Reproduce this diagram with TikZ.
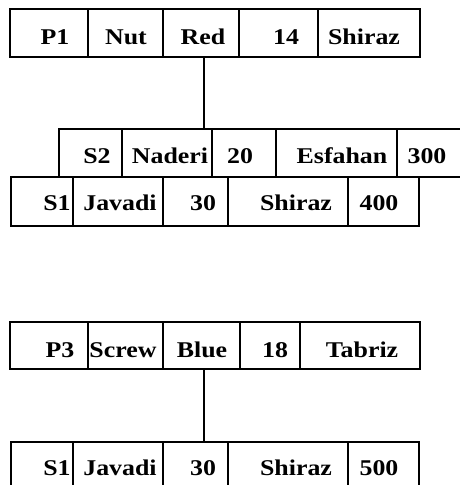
\documentclass[tikz,border=0pt]{standalone}
\usepackage{fontspec}
\setmainfont{Liberation Serif}[FakeStretch=1.15]
\newcommand\ct[3]{\raisebox{\dimexpr-#1pt-7.5pt\relax}[0pt][0pt]{\makebox[0pt]{\hspace*{#2pt}#3}}}
\begin{document}
\begin{tikzpicture}[x=1pt,y=-1pt,
  cell/.style={draw, line width=1.4pt, anchor=north west, inner sep=0pt, outer sep=0pt,
    font=\fontsize{22.5}{22.5}\selectfont\bfseries},
  link/.style={draw, line width=1.4pt}]
\useasboundingbox (0,0) rectangle (460,485);
% Row A: P1
\node[cell, minimum width=78, minimum height=48] (a1) at (10,9) {\ct{3.5}{12}{P1}};
\node[cell, minimum width=75, minimum height=48] (a2) at (88,9) {\ct{3.5}{1}{Nut}};
\node[cell, minimum width=76, minimum height=48] (a3) at (163,9) {\ct{3.5}{4}{Red}};
\node[cell, minimum width=79, minimum height=48] (a4) at (239,9) {\ct{3.5}{15}{14}};
\node[cell, minimum width=102, minimum height=48] (a5) at (318,9) {\ct{3.5}{-10}{Shiraz}};
% Row B: S2
\node[cell, minimum width=63, minimum height=48] (b1) at (59,129) {\ct{3}{13}{S2}};
\node[cell, minimum width=90, minimum height=48] (b2) at (122,129) {\ct{3}{6}{Naderi}};
\node[cell, minimum width=64, minimum height=48] (b3) at (212,129) {\ct{3}{-8}{20}};
\node[cell, minimum width=121, minimum height=48] (b4) at (276,129) {\ct{3}{11}{Esfahan}};
\node[cell, minimum width=75, minimum height=48] (b5) at (397,129) {\ct{3}{-15}{300}};
% Row C: S1
\node[cell, minimum width=62, minimum height=49] (c1) at (11,177) {\ct{1}{30}{S1}};
\node[cell, minimum width=90, minimum height=49] (c2) at (73,177) {\ct{1}{4}{Javadi}};
\node[cell, minimum width=65, minimum height=49] (c3) at (163,177) {\ct{1}{15}{30}};
\node[cell, minimum width=120, minimum height=49] (c4) at (228,177) {\ct{1}{16}{Shiraz}};
\node[cell, minimum width=71, minimum height=49] (c5) at (348,177) {\ct{1}{-9}{400}};
% Row D: P3
\node[cell, minimum width=78, minimum height=47] (d1) at (10,322) {\ct{4}{22}{P3}};
\node[cell, minimum width=75, minimum height=47] (d2) at (88,322) {\ct{4}{-5}{Screw}};
\node[cell, minimum width=77, minimum height=47] (d3) at (163,322) {\ct{4}{1}{Blue}};
\node[cell, minimum width=60, minimum height=47] (d4) at (240,322) {\ct{4}{10}{18}};
\node[cell, minimum width=120, minimum height=47] (d5) at (300,322) {\ct{4}{4}{Tabriz}};
% Row E: S1
\node[cell, minimum width=62, minimum height=50] (e1) at (11,442) {\ct{1}{30}{S1}};
\node[cell, minimum width=90, minimum height=50] (e2) at (73,442) {\ct{1}{4}{Javadi}};
\node[cell, minimum width=65, minimum height=50] (e3) at (163,442) {\ct{1}{15}{30}};
\node[cell, minimum width=120, minimum height=50] (e4) at (228,442) {\ct{1}{16}{Shiraz}};
\node[cell, minimum width=71, minimum height=50] (e5) at (348,442) {\ct{1}{-9}{500}};
% connectors
\draw[link] ([xshift=3pt]a3.south) -- ([xshift=3pt]a3.south |- b2.north);
\draw[link] ([xshift=2.5pt]d3.south) -- ([xshift=2.5pt]d3.south |- e3.north);
\end{tikzpicture}
\end{document}
